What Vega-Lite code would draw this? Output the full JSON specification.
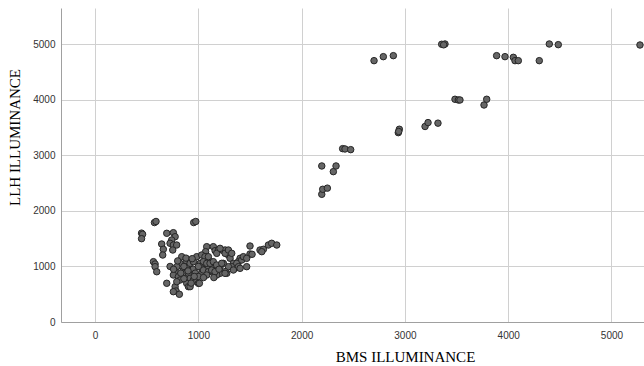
{
  "$schema": "https://vega.github.io/schema/vega-lite/v6.json",
  "autosize": {"type": "none"},
  "padding": {"left": 61, "top": 8, "right": 0, "bottom": 44},
  "width": 583,
  "height": 314,
  "background": "white",
  "config": {"view": {"stroke": null}},
  "data": {"values": [
    {"bms": 2195, "llh": 2809}, {"bms": 2307, "llh": 2707}, {"bms": 2333, "llh": 2809},
    {"bms": 2195, "llh": 2299}, {"bms": 2204, "llh": 2389}, {"bms": 2249, "llh": 2410},
    {"bms": 2397, "llh": 3121}, {"bms": 2420, "llh": 3115}, {"bms": 2475, "llh": 3103},
    {"bms": 2936, "llh": 3409}, {"bms": 2946, "llh": 3470}, {"bms": 2940, "llh": 3430},
    {"bms": 3195, "llh": 3520}, {"bms": 3224, "llh": 3590}, {"bms": 3320, "llh": 3580},
    {"bms": 3485, "llh": 4010}, {"bms": 3517, "llh": 3997}, {"bms": 3533, "llh": 3997},
    {"bms": 3766, "llh": 3907}, {"bms": 3792, "llh": 4010},
    {"bms": 2701, "llh": 4705}, {"bms": 2791, "llh": 4777}, {"bms": 2888, "llh": 4795},
    {"bms": 3356, "llh": 5000}, {"bms": 3388, "llh": 5005}, {"bms": 3375, "llh": 4990},
    {"bms": 3888, "llh": 4795}, {"bms": 3969, "llh": 4777}, {"bms": 4050, "llh": 4765},
    {"bms": 4066, "llh": 4705}, {"bms": 4098, "llh": 4705}, {"bms": 4301, "llh": 4705},
    {"bms": 4398, "llh": 5005}, {"bms": 4485, "llh": 4993}, {"bms": 5276, "llh": 4987},
    {"bms": 575, "llh": 1790}, {"bms": 590, "llh": 1810}, {"bms": 955, "llh": 1790}, {"bms": 975, "llh": 1810},
    {"bms": 450, "llh": 1600}, {"bms": 460, "llh": 1580}, {"bms": 450, "llh": 1500},
    {"bms": 694, "llh": 1597}, {"bms": 758, "llh": 1608}, {"bms": 775, "llh": 1536}, {"bms": 742, "llh": 1476},
    {"bms": 726, "llh": 1417}, {"bms": 645, "llh": 1404}, {"bms": 661, "llh": 1309}, {"bms": 655, "llh": 1206},
    {"bms": 758, "llh": 1386}, {"bms": 752, "llh": 1296}, {"bms": 790, "llh": 1386},
    {"bms": 565, "llh": 1086}, {"bms": 581, "llh": 1044}, {"bms": 581, "llh": 996}, {"bms": 597, "llh": 905},
    {"bms": 694, "llh": 697}, {"bms": 775, "llh": 636}, {"bms": 784, "llh": 558}, {"bms": 816, "llh": 499}, {"bms": 758, "llh": 546},
    {"bms": 1081, "llh": 1356}, {"bms": 1070, "llh": 1266},
    {"bms": 1145, "llh": 1356}, {"bms": 1162, "llh": 1284}, {"bms": 1194, "llh": 1296}, {"bms": 1243, "llh": 1284},
    {"bms": 1259, "llh": 1296}, {"bms": 1290, "llh": 1206}, {"bms": 1307, "llh": 1147},
    {"bms": 1500, "llh": 1368}, {"bms": 1500, "llh": 1224}, {"bms": 1520, "llh": 1219},
    {"bms": 1597, "llh": 1296}, {"bms": 1630, "llh": 1309}, {"bms": 1614, "llh": 1266}, {"bms": 1678, "llh": 1386},
    {"bms": 1710, "llh": 1417}, {"bms": 1759, "llh": 1386},
    {"bms": 1404, "llh": 1147}, {"bms": 1387, "llh": 1086}, {"bms": 1372, "llh": 1026}, {"bms": 1355, "llh": 967},
    {"bms": 1339, "llh": 1056}, {"bms": 1323, "llh": 996}, {"bms": 1291, "llh": 996}, {"bms": 1275, "llh": 877}, {"bms": 1259, "llh": 906},
    {"bms": 839, "llh": 1176}, {"bms": 887, "llh": 1086}, {"bms": 823, "llh": 1056}, {"bms": 791, "llh": 996},
    {"bms": 855, "llh": 936}, {"bms": 775, "llh": 906}, {"bms": 758, "llh": 846}, {"bms": 807, "llh": 816},
    {"bms": 855, "llh": 876}, {"bms": 887, "llh": 996}, {"bms": 920, "llh": 1056}, {"bms": 952, "llh": 1086},
    {"bms": 984, "llh": 1176}, {"bms": 1017, "llh": 1056}, {"bms": 1033, "llh": 966}, {"bms": 1065, "llh": 1056},
    {"bms": 1081, "llh": 1176}, {"bms": 1113, "llh": 1086}, {"bms": 1146, "llh": 996}, {"bms": 1178, "llh": 936},
    {"bms": 1210, "llh": 996}, {"bms": 1242, "llh": 1056}, {"bms": 1210, "llh": 876}, {"bms": 1178, "llh": 1236},
    {"bms": 1210, "llh": 1326}, {"bms": 1259, "llh": 1236}, {"bms": 1291, "llh": 1296}, {"bms": 1323, "llh": 1236},
    {"bms": 1372, "llh": 1056}, {"bms": 1388, "llh": 996}, {"bms": 1339, "llh": 936},
    {"bms": 1420, "llh": 1116}, {"bms": 1436, "llh": 1176}, {"bms": 1468, "llh": 1146}, {"bms": 1468, "llh": 996}, {"bms": 1404, "llh": 966},
    {"bms": 904, "llh": 876}, {"bms": 920, "llh": 786}, {"bms": 952, "llh": 756}, {"bms": 984, "llh": 726},
    {"bms": 1000, "llh": 696}, {"bms": 887, "llh": 696}, {"bms": 904, "llh": 636}, {"bms": 823, "llh": 756},
    {"bms": 791, "llh": 726}, {"bms": 1033, "llh": 876}, {"bms": 1081, "llh": 906}, {"bms": 1130, "llh": 906},
    {"bms": 1178, "llh": 846}, {"bms": 1097, "llh": 966},
    {"bms": 1032, "llh": 1206}, {"bms": 1064, "llh": 1176}, {"bms": 1097, "llh": 1176}, {"bms": 1048, "llh": 1086},
    {"bms": 1081, "llh": 1056}, {"bms": 1113, "llh": 1056}, {"bms": 1145, "llh": 1086}, {"bms": 1177, "llh": 1026},
    {"bms": 1226, "llh": 1056}, {"bms": 1016, "llh": 996}, {"bms": 1048, "llh": 936}, {"bms": 1097, "llh": 906},
    {"bms": 1129, "llh": 936}, {"bms": 1161, "llh": 906}, {"bms": 1081, "llh": 846}, {"bms": 1258, "llh": 876},
    {"bms": 920, "llh": 636}, {"bms": 1010, "llh": 697}, {"bms": 726, "llh": 1000}, {"bms": 760, "llh": 950},
    {"bms": 800, "llh": 1100}, {"bms": 860, "llh": 1000}, {"bms": 950, "llh": 950}, {"bms": 970, "llh": 880},
    {"bms": 1000, "llh": 820}, {"bms": 860, "llh": 780}, {"bms": 930, "llh": 700}, {"bms": 960, "llh": 820},
    {"bms": 880, "llh": 1150}, {"bms": 940, "llh": 1140}, {"bms": 900, "llh": 920}, {"bms": 830, "llh": 880},
    {"bms": 1000, "llh": 1000}, {"bms": 1050, "llh": 800}, {"bms": 1150, "llh": 800}, {"bms": 1200, "llh": 950}
  ]},
  "mark": {"type": "point", "filled": true, "shape": "circle", "size": 42, "fill": "#666666", "stroke": "#262626", "strokeWidth": 1, "opacity": 1},
  "encoding": {
    "x": {
      "field": "bms", "type": "quantitative",
      "scale": {"domain": [-330, 5315], "nice": false, "zero": false},
      "axis": {
        "title": "BMS ILLUMINANCE",
        "values": [0, 1000, 2000, 3000, 4000, 5000],
        "format": "d",
        "grid": true, "gridColor": "#d0d0d0", "gridWidth": 1,
        "domainColor": "#a0a0a0", "domainWidth": 1,
        "ticks": false, "labelPadding": 8,
        "labelFont": "Liberation Sans", "labelFontSize": 10, "labelColor": "#333333",
        "titleFont": "Liberation Serif", "titleFontSize": 15, "titleFontWeight": "normal", "titleColor": "#000000",
        "titleX": 344, "titleY": 39, "titleBaseline": "alphabetic", "titleAlign": "center"
      }
    },
    "y": {
      "field": "llh", "type": "quantitative",
      "scale": {"domain": [0, 5653], "nice": false, "zero": false},
      "axis": {
        "title": "LLH ILLUMINANCE",
        "values": [0, 1000, 2000, 3000, 4000, 5000],
        "format": "d",
        "grid": true, "gridColor": "#d0d0d0", "gridWidth": 1,
        "domainColor": "#a0a0a0", "domainWidth": 1,
        "ticks": false, "labelPadding": 6,
        "labelFont": "Liberation Sans", "labelFontSize": 10, "labelColor": "#333333",
        "titleFont": "Liberation Serif", "titleFontSize": 15, "titleFontWeight": "normal", "titleColor": "#000000",
        "titleX": -42, "titleY": 129, "titleBaseline": "alphabetic", "titleAlign": "center", "titleAngle": -90
      }
    }
  }
}
